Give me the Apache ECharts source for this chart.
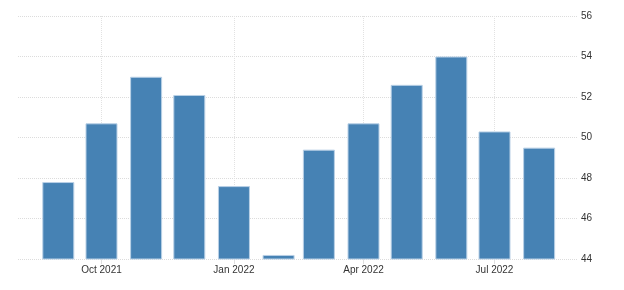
<!DOCTYPE html>
<html>
<head>
<meta charset="utf-8">
<script src="https://cdn.jsdelivr.net/npm/echarts@6/dist/echarts.min.js"></script>
<style>
html,body{margin:0;padding:0;background:#fff;}
#chart{width:624px;height:290px;}
</style>
</head>
<body>
<div id="chart"></div>
<script>
// Data
var months = ['2021-09','2021-10','2021-11','2021-12','2022-01','2022-02','2022-03','2022-04','2022-05','2022-06','2022-07','2022-08'];
var values = [47.8, 50.7, 53.0, 52.1, 47.6, 44.2, 49.4, 50.7, 52.6, 54.0, 50.3, 49.5];
var xTickMonths = ['2021-10','2022-01','2022-04','2022-07'];
var xTickLabels = ['Oct 2021','Jan 2022','Apr 2022','Jul 2022'];
var yTicks = [44, 46, 48, 50, 52, 54, 56];

function toTime(s, day) {
  var p = s.split('-');
  return new Date(+p[0], +p[1] - 1, day || 1).getTime();
}
var seriesData = months.map(function (m, i) { return [toTime(m), values[i]]; });
var tickTimes = xTickMonths.map(function (m) { return toTime(m); });

var chart = echarts.init(document.getElementById('chart'), null, {renderer: 'canvas'});
chart.setOption({
  animation: false,
  backgroundColor: '#ffffff',
  grid: {left: 18, right: 46, top: 16, bottom: 31, containLabel: false},
  xAxis: {
    type: 'value',
    min: toTime('2021-08', 4),
    max: toTime('2022-08', 28),
    axisLine: {show: false},
    axisTick: {show: true, length: 5, lineStyle: {color: '#e0e0e0'}, customValues: tickTimes},
    splitLine: {show: true, lineStyle: {color: '#e2e2e2', type: [1, 1], width: 1}},
    axisLabel: {
      customValues: tickTimes,
      color: '#333',
      fontFamily: 'Liberation Sans',
      fontSize: 10,
      margin: 6,
      formatter: function (v) {
        var idx = tickTimes.indexOf(v);
        return idx >= 0 ? xTickLabels[idx] : '';
      }
    }
  },
  yAxis: {
    type: 'value',
    position: 'right',
    min: yTicks[0],
    max: yTicks[yTicks.length - 1],
    interval: 2,
    axisLine: {show: false},
    axisTick: {show: false},
    splitLine: {show: true, lineStyle: {color: '#dcdcdc', type: [1, 1], width: 1}},
    axisLabel: {color: '#333', fontFamily: 'Liberation Sans', fontSize: 10, margin: 3}
  },
  series: [{
    type: 'bar',
    data: seriesData,
    barWidth: 32,
    itemStyle: {color: '#4682b4', borderColor: '#b9d0e6', borderWidth: 1}
  }]
});
</script>
</body>
</html>
